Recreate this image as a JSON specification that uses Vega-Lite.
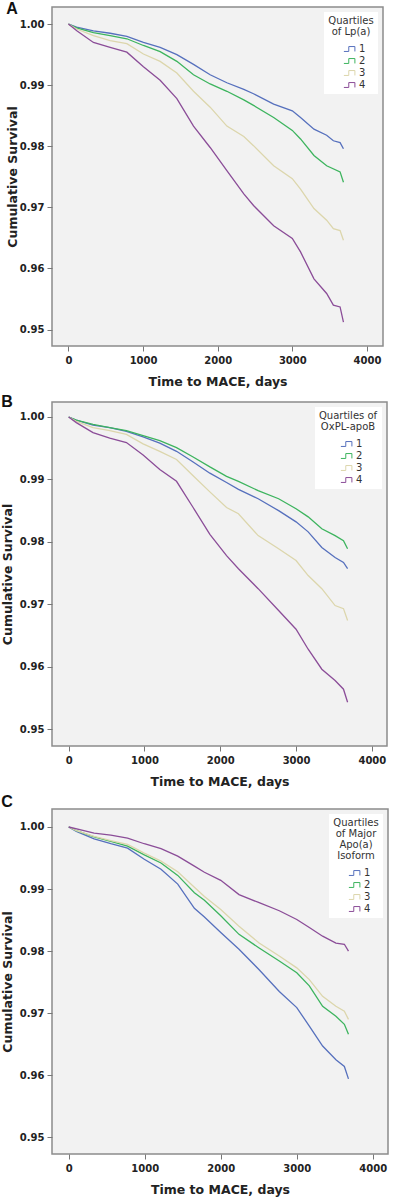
{
  "$schema": "https://vega.github.io/schema/vega-lite/v6.json",
  "background": "white",
  "padding": {"left": 0, "right": 2, "top": 0, "bottom": 0},
  "columns": 1,
  "align": "none",
  "spacing": 4,
  "config": {
    "view": {"fill": "#f2f2f2", "stroke": "#8c8c8c", "strokeWidth": 1.5},
    "axis": {"grid": false, "domain": false, "labelFont": "DejaVu Sans", "labelFontWeight": "bold", "labelFontSize": 10, "labelColor": "#222", "titleFont": "DejaVu Sans", "titleFontWeight": "bold", "titleFontSize": 12.5, "titleColor": "#222", "tickColor": "#777", "tickSize": 5},
    "axisX": {"labelPadding": 4, "titlePadding": 10},
    "axisY": {"labelPadding": 3},
    "legend": {"orient": "top-right", "offset": 5, "fillColor": "white", "padding": 4, "titleFont": "DejaVu Sans", "titleFontWeight": "normal", "titleFontSize": 10, "titleColor": "#333", "titleAlign": "center", "titleAnchor": "middle", "titleLineHeight": 11, "titlePadding": 5, "labelFont": "DejaVu Sans", "labelFontSize": 10, "labelColor": "#333", "labelOffset": 2, "symbolType": "M-1,0.4H-0.2V-0.4H0.8V0.4", "symbolSize": 150, "symbolStrokeWidth": 1, "symbolOffset": 6, "rowPadding": 0},
    "title": {"anchor": "start", "frame": "bounds", "font": "Liberation Sans", "fontWeight": "bold", "fontSize": 16, "color": "#111"}
  },
  "datasets": {
    "A": [
      {"q":"1","t":0,"s":1},{"q":"1","t":110,"s":0.9995},{"q":"1","t":335,"s":0.9989},{"q":"1","t":559,"s":0.9985},{"q":"1","t":783,"s":0.998},{"q":"1","t":1005,"s":0.997},{"q":"1","t":1229,"s":0.9962},{"q":"1","t":1453,"s":0.995},{"q":"1","t":1676,"s":0.9934},{"q":"1","t":1899,"s":0.9917},{"q":"1","t":2123,"s":0.9904},{"q":"1","t":2350,"s":0.9893},{"q":"1","t":2480,"s":0.9886},{"q":"1","t":2750,"s":0.9869},{"q":"1","t":3000,"s":0.9858},{"q":"1","t":3110,"s":0.9847},{"q":"1","t":3290,"s":0.9828},{"q":"1","t":3460,"s":0.9818},{"q":"1","t":3550,"s":0.9809},{"q":"1","t":3640,"s":0.9806},{"q":"1","t":3685,"s":0.9796},
      {"q":"2","t":0,"s":1},{"q":"2","t":110,"s":0.9994},{"q":"2","t":335,"s":0.9986},{"q":"2","t":559,"s":0.9981},{"q":"2","t":783,"s":0.9976},{"q":"2","t":1005,"s":0.9965},{"q":"2","t":1229,"s":0.9955},{"q":"2","t":1453,"s":0.9939},{"q":"2","t":1676,"s":0.9917},{"q":"2","t":1899,"s":0.9902},{"q":"2","t":2123,"s":0.989},{"q":"2","t":2350,"s":0.9876},{"q":"2","t":2480,"s":0.9867},{"q":"2","t":2750,"s":0.9847},{"q":"2","t":3000,"s":0.9826},{"q":"2","t":3110,"s":0.9812},{"q":"2","t":3290,"s":0.9785},{"q":"2","t":3460,"s":0.9768},{"q":"2","t":3640,"s":0.9758},{"q":"2","t":3685,"s":0.9741},
      {"q":"3","t":0,"s":1},{"q":"3","t":110,"s":0.9992},{"q":"3","t":335,"s":0.9981},{"q":"3","t":559,"s":0.9973},{"q":"3","t":783,"s":0.9968},{"q":"3","t":1005,"s":0.9951},{"q":"3","t":1229,"s":0.9939},{"q":"3","t":1453,"s":0.992},{"q":"3","t":1676,"s":0.989},{"q":"3","t":1899,"s":0.9864},{"q":"3","t":2123,"s":0.9833},{"q":"3","t":2350,"s":0.9816},{"q":"3","t":2480,"s":0.9801},{"q":"3","t":2750,"s":0.9768},{"q":"3","t":3000,"s":0.9747},{"q":"3","t":3110,"s":0.973},{"q":"3","t":3290,"s":0.9698},{"q":"3","t":3460,"s":0.9679},{"q":"3","t":3550,"s":0.9665},{"q":"3","t":3640,"s":0.9662},{"q":"3","t":3685,"s":0.9646},
      {"q":"4","t":0,"s":1},{"q":"4","t":112,"s":0.9989},{"q":"4","t":335,"s":0.997},{"q":"4","t":559,"s":0.9962},{"q":"4","t":783,"s":0.9954},{"q":"4","t":1005,"s":0.993},{"q":"4","t":1229,"s":0.9908},{"q":"4","t":1453,"s":0.9878},{"q":"4","t":1676,"s":0.9833},{"q":"4","t":1899,"s":0.9798},{"q":"4","t":2123,"s":0.976},{"q":"4","t":2350,"s":0.9722},{"q":"4","t":2480,"s":0.9703},{"q":"4","t":2750,"s":0.967},{"q":"4","t":3000,"s":0.9649},{"q":"4","t":3110,"s":0.9627},{"q":"4","t":3290,"s":0.9583},{"q":"4","t":3460,"s":0.9559},{"q":"4","t":3550,"s":0.954},{"q":"4","t":3640,"s":0.9537},{"q":"4","t":3685,"s":0.9512}
    ],
    "B": [
      {"q":"1","t":0,"s":1},{"q":"1","t":100,"s":0.9995},{"q":"1","t":321,"s":0.9987},{"q":"1","t":542,"s":0.9983},{"q":"1","t":762,"s":0.9977},{"q":"1","t":982,"s":0.9968},{"q":"1","t":1202,"s":0.9958},{"q":"1","t":1423,"s":0.9945},{"q":"1","t":1642,"s":0.9928},{"q":"1","t":1863,"s":0.991},{"q":"1","t":2083,"s":0.9895},{"q":"1","t":2240,"s":0.9884},{"q":"1","t":2500,"s":0.9869},{"q":"1","t":2770,"s":0.985},{"q":"1","t":3000,"s":0.9832},{"q":"1","t":3160,"s":0.9816},{"q":"1","t":3340,"s":0.9791},{"q":"1","t":3515,"s":0.9775},{"q":"1","t":3626,"s":0.9767},{"q":"1","t":3680,"s":0.9757},
      {"q":"2","t":0,"s":1},{"q":"2","t":100,"s":0.9995},{"q":"2","t":321,"s":0.9988},{"q":"2","t":542,"s":0.9983},{"q":"2","t":762,"s":0.9978},{"q":"2","t":982,"s":0.997},{"q":"2","t":1202,"s":0.9962},{"q":"2","t":1423,"s":0.9951},{"q":"2","t":1642,"s":0.9936},{"q":"2","t":1863,"s":0.992},{"q":"2","t":2083,"s":0.9905},{"q":"2","t":2240,"s":0.9897},{"q":"2","t":2500,"s":0.9882},{"q":"2","t":2770,"s":0.9869},{"q":"2","t":3000,"s":0.9853},{"q":"2","t":3160,"s":0.984},{"q":"2","t":3340,"s":0.9821},{"q":"2","t":3515,"s":0.981},{"q":"2","t":3626,"s":0.9802},{"q":"2","t":3680,"s":0.9789},
      {"q":"3","t":0,"s":1},{"q":"3","t":100,"s":0.9993},{"q":"3","t":321,"s":0.9983},{"q":"3","t":542,"s":0.9978},{"q":"3","t":762,"s":0.9972},{"q":"3","t":982,"s":0.9957},{"q":"3","t":1202,"s":0.9945},{"q":"3","t":1423,"s":0.9932},{"q":"3","t":1642,"s":0.9906},{"q":"3","t":1863,"s":0.988},{"q":"3","t":2083,"s":0.9855},{"q":"3","t":2240,"s":0.9845},{"q":"3","t":2500,"s":0.981},{"q":"3","t":2770,"s":0.9789},{"q":"3","t":3000,"s":0.977},{"q":"3","t":3160,"s":0.9746},{"q":"3","t":3340,"s":0.9725},{"q":"3","t":3515,"s":0.9698},{"q":"3","t":3626,"s":0.9693},{"q":"3","t":3680,"s":0.9674},
      {"q":"4","t":0,"s":1},{"q":"4","t":101,"s":0.9991},{"q":"4","t":321,"s":0.9975},{"q":"4","t":542,"s":0.9966},{"q":"4","t":762,"s":0.9959},{"q":"4","t":982,"s":0.9939},{"q":"4","t":1202,"s":0.9916},{"q":"4","t":1423,"s":0.9897},{"q":"4","t":1642,"s":0.9855},{"q":"4","t":1863,"s":0.9812},{"q":"4","t":2083,"s":0.9778},{"q":"4","t":2240,"s":0.9757},{"q":"4","t":2500,"s":0.9725},{"q":"4","t":2770,"s":0.969},{"q":"4","t":3000,"s":0.966},{"q":"4","t":3160,"s":0.9628},{"q":"4","t":3340,"s":0.9596},{"q":"4","t":3515,"s":0.9578},{"q":"4","t":3626,"s":0.9564},{"q":"4","t":3680,"s":0.9543}
    ],
    "C": [
      {"q":"1","t":0,"s":1},{"q":"1","t":100,"s":0.9993},{"q":"1","t":334,"s":0.9981},{"q":"1","t":554,"s":0.9973},{"q":"1","t":774,"s":0.9966},{"q":"1","t":994,"s":0.9948},{"q":"1","t":1214,"s":0.9932},{"q":"1","t":1434,"s":0.9908},{"q":"1","t":1653,"s":0.9869},{"q":"1","t":1785,"s":0.9855},{"q":"1","t":2000,"s":0.983},{"q":"1","t":2240,"s":0.9803},{"q":"1","t":2505,"s":0.977},{"q":"1","t":2770,"s":0.9735},{"q":"1","t":3000,"s":0.9709},{"q":"1","t":3165,"s":0.9679},{"q":"1","t":3340,"s":0.9647},{"q":"1","t":3515,"s":0.9625},{"q":"1","t":3626,"s":0.9614},{"q":"1","t":3680,"s":0.9594},
      {"q":"2","t":0,"s":1},{"q":"2","t":100,"s":0.9994},{"q":"2","t":334,"s":0.9984},{"q":"2","t":554,"s":0.9977},{"q":"2","t":774,"s":0.9969},{"q":"2","t":994,"s":0.9955},{"q":"2","t":1214,"s":0.9942},{"q":"2","t":1434,"s":0.9922},{"q":"2","t":1653,"s":0.9894},{"q":"2","t":1785,"s":0.9882},{"q":"2","t":2000,"s":0.9857},{"q":"2","t":2240,"s":0.9827},{"q":"2","t":2505,"s":0.9805},{"q":"2","t":2770,"s":0.9784},{"q":"2","t":3000,"s":0.9765},{"q":"2","t":3165,"s":0.9744},{"q":"2","t":3340,"s":0.9711},{"q":"2","t":3515,"s":0.9695},{"q":"2","t":3626,"s":0.9682},{"q":"2","t":3680,"s":0.9666},
      {"q":"3","t":0,"s":1},{"q":"3","t":100,"s":0.9994},{"q":"3","t":334,"s":0.9985},{"q":"3","t":554,"s":0.9978},{"q":"3","t":774,"s":0.9972},{"q":"3","t":994,"s":0.9958},{"q":"3","t":1214,"s":0.9945},{"q":"3","t":1434,"s":0.9928},{"q":"3","t":1653,"s":0.9903},{"q":"3","t":1785,"s":0.9888},{"q":"3","t":2000,"s":0.9867},{"q":"3","t":2240,"s":0.984},{"q":"3","t":2505,"s":0.9813},{"q":"3","t":2770,"s":0.9792},{"q":"3","t":3000,"s":0.9773},{"q":"3","t":3165,"s":0.9754},{"q":"3","t":3340,"s":0.9727},{"q":"3","t":3515,"s":0.9711},{"q":"3","t":3626,"s":0.9703},{"q":"3","t":3680,"s":0.969},
      {"q":"4","t":0,"s":1},{"q":"4","t":200,"s":0.9994},{"q":"4","t":334,"s":0.999},{"q":"4","t":554,"s":0.9987},{"q":"4","t":774,"s":0.9982},{"q":"4","t":994,"s":0.9973},{"q":"4","t":1214,"s":0.9965},{"q":"4","t":1434,"s":0.9953},{"q":"4","t":1653,"s":0.9937},{"q":"4","t":1785,"s":0.9927},{"q":"4","t":2000,"s":0.9914},{"q":"4","t":2240,"s":0.9891},{"q":"4","t":2505,"s":0.9878},{"q":"4","t":2770,"s":0.9865},{"q":"4","t":3000,"s":0.9851},{"q":"4","t":3165,"s":0.9838},{"q":"4","t":3340,"s":0.9824},{"q":"4","t":3515,"s":0.9813},{"q":"4","t":3626,"s":0.9811},{"q":"4","t":3680,"s":0.98}
    ]
  },
  "concat": [
    {
      "title": {"text": "A", "offset": -10},
      "width": 331, "height": 339,
      "data": {"name": "A"},
      "mark": {"type": "line", "strokeWidth": 1.3},
      "encoding": {
        "x": {"field": "t", "type": "quantitative", "scale": {"domain": [-220, 4215], "nice": false, "zero": false}, "axis": {"values": [0, 1000, 2000, 3000, 4000], "format": "d", "title": "Time to MACE, days"}},
        "y": {"field": "s", "type": "quantitative", "scale": {"domain": [0.9473, 1.0028], "nice": false, "zero": false}, "axis": {"values": [0.95, 0.96, 0.97, 0.98, 0.99, 1.0], "format": ".2f", "title": "Cumulative Survival", "titlePadding": 0}},
        "color": {"field": "q", "type": "nominal", "scale": {"domain": ["1", "2", "3", "4"], "range": ["#5670bd", "#3db45e", "#dcd6ac", "#8b4d98"]}, "legend": {"title": ["Quartiles", "of Lp(a)"]}}
      }
    },
    {
      "title": {"text": "B", "offset": -8},
      "width": 335, "height": 344,
      "data": {"name": "B"},
      "mark": {"type": "line", "strokeWidth": 1.3},
      "encoding": {
        "x": {"field": "t", "type": "quantitative", "scale": {"domain": [-220, 4200], "nice": false, "zero": false}, "axis": {"values": [0, 1000, 2000, 3000, 4000], "format": "d", "title": "Time to MACE, days"}},
        "y": {"field": "s", "type": "quantitative", "scale": {"domain": [0.9473, 1.0024], "nice": false, "zero": false}, "axis": {"values": [0.95, 0.96, 0.97, 0.98, 0.99, 1.0], "format": ".2f", "title": "Cumulative Survival", "titlePadding": 5}},
        "color": {"field": "q", "type": "nominal", "scale": {"domain": ["1", "2", "3", "4"], "range": ["#5670bd", "#3db45e", "#dcd6ac", "#8b4d98"]}, "legend": {"title": ["Quartiles of", "OxPL-apoB"]}}
      }
    },
    {
      "title": {"text": "C", "offset": -1},
      "width": 336, "height": 345,
      "data": {"name": "C"},
      "mark": {"type": "line", "strokeWidth": 1.3},
      "encoding": {
        "x": {"field": "t", "type": "quantitative", "scale": {"domain": [-220, 4200], "nice": false, "zero": false}, "axis": {"values": [0, 1000, 2000, 3000, 4000], "format": "d", "title": "Time to MACE, days"}},
        "y": {"field": "s", "type": "quantitative", "scale": {"domain": [0.9473, 1.0029], "nice": false, "zero": false}, "axis": {"values": [0.95, 0.96, 0.97, 0.98, 0.99, 1.0], "format": ".2f", "title": "Cumulative Survival", "titlePadding": 5}},
        "color": {"field": "q", "type": "nominal", "scale": {"domain": ["1", "2", "3", "4"], "range": ["#5670bd", "#3db45e", "#dcd6ac", "#8b4d98"]}, "legend": {"title": ["Quartiles", "of Major", "Apo(a)", "Isoform"]}}
      }
    }
  ],
  "resolve": {"scale": {"color": "independent"}, "legend": {"color": "independent"}}
}
